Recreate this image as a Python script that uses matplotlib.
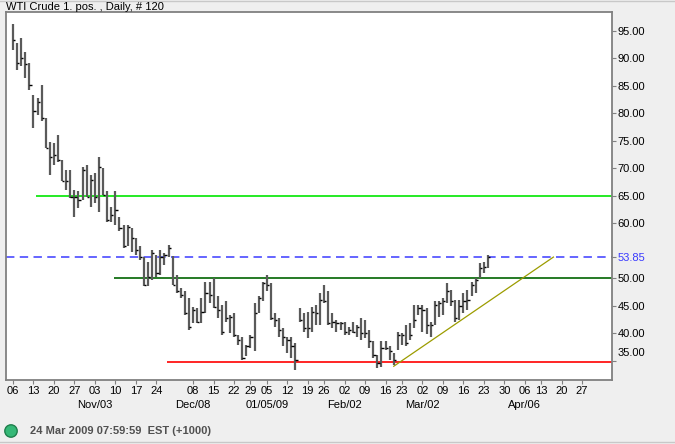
import matplotlib
matplotlib.use("Agg")
import matplotlib.pyplot as plt
import matplotlib.transforms as mtransforms
from matplotlib.patches import Circle
import numpy as np
import pandas as pd

plt.rcParams["font.family"] = ["Liberation Sans", "DejaVu Sans"]
plt.rcParams["font.size"] = 8

# ---- data: daily bars (high / low / close), first bar 2008-10-06 ----
high = [96.2, 92.7, 93.6, 91.2, 89.1, 83.3, 82.8, 85.1, 79.1, 74.8,
        74.5, 76.0, 71.5, 69.7, 69.7, 66.1, 65.8, 70.3, 70.6, 68.8,
        69.1, 72.0, 70.0, 65.8, 63.0, 65.8, 61.2, 59.7, 59.7, 59.1,
        57.3, 55.8, 53.9, 53.0, 55.2, 54.2, 55.2, 54.6, 56.1, 54.1,
        50.6, 48.2, 47.6, 46.4, 44.8, 44.5, 46.4, 49.4, 49.4, 50.0,
        46.7, 45.2, 45.8, 43.3, 43.6, 39.7, 39.4, 37.9, 39.7, 45.5,
        46.7, 49.4, 50.6, 49.1, 43.6, 42.7, 40.9, 39.4, 39.4, 38.2,
        44.5, 43.6, 43.9, 44.8, 45.2, 47.3, 48.8, 47.6, 43.6, 42.4,
        42.1, 42.1, 41.2, 42.1, 41.5, 42.7, 42.4, 40.6, 38.5, 36.1,
        38.5, 38.5, 37.6, 36.4, 40.3, 40.0, 41.5, 41.8, 45.2, 45.2,
        45.2, 44.5, 42.1, 45.8, 45.8, 46.4, 49.1, 47.9, 46.1, 46.1,
        47.3, 47.9, 49.4, 50.0, 52.7, 53.0, 54.2]
low = [91.5, 87.9, 88.5, 86.4, 84.2, 77.3, 79.7, 78.5, 73.6, 68.8,
       70.6, 71.2, 67.6, 66.1, 64.5, 61.2, 62.7, 64.2, 64.8, 63.0,
       63.6, 62.1, 65.2, 60.3, 60.3, 59.7, 58.5, 55.5, 55.8, 54.8,
       54.2, 53.3, 48.5, 48.5, 49.7, 50.3, 50.6, 52.4, 53.9, 48.8,
       47.3, 46.4, 43.3, 40.6, 41.8, 41.8, 41.8, 43.6, 45.5, 44.5,
       42.7, 39.7, 42.1, 40.0, 39.4, 37.9, 35.1, 35.8, 37.3, 36.7,
       43.6, 45.8, 47.6, 42.4, 41.2, 39.4, 37.6, 36.4, 35.5, 33.3,
       42.1, 40.3, 39.1, 40.3, 41.5, 41.5, 45.5, 41.5, 40.9, 40.3,
       40.6, 39.7, 39.7, 40.0, 39.4, 38.8, 39.1, 37.3, 35.5, 33.6,
       33.9, 37.0, 35.2, 34.2, 37.0, 37.9, 37.6, 38.8, 40.9, 43.3,
       40.3, 39.9, 39.4, 41.5, 43.0, 43.3, 45.5, 44.9, 42.1, 42.4,
       43.6, 44.2, 46.7, 47.3, 50.0, 50.9, 51.8]
close = [93.3, 89.1, 90.0, 88.9, 85.1, 80.4, 82.0, 79.1, 73.6, 72.1,
         72.4, 71.5, 67.6, 67.6, 64.8, 64.8, 64.2, 69.7, 64.8, 67.9,
         64.8, 70.3, 65.2, 60.6, 61.5, 62.4, 59.1, 55.8, 59.4, 57.3,
         55.1, 53.9, 48.8, 50.3, 54.6, 50.9, 53.9, 54.2, 55.5, 48.8,
         47.6, 47.0, 43.6, 41.2, 44.2, 42.1, 43.9, 47.3, 47.0, 44.8,
         44.2, 40.3, 42.7, 43.0, 39.7, 38.8, 35.5, 37.6, 39.4, 43.6,
         46.4, 49.1, 48.8, 42.7, 42.4, 40.6, 39.4, 38.8, 37.6, 35.2,
         42.4, 40.9, 40.9, 43.9, 43.6, 46.1, 45.8, 41.8, 42.1, 41.8,
         41.8, 40.3, 40.6, 40.3, 41.2, 40.0, 40.0, 38.5, 36.1, 34.5,
         37.3, 37.3, 36.7, 35.2, 39.7, 39.7, 38.2, 39.7, 42.4, 44.5,
         44.2, 41.5, 41.5, 45.2, 45.5, 45.8, 47.6, 45.8, 42.7, 44.9,
         45.8, 46.1, 48.8, 49.7, 51.8, 52.1, 53.9]

holidays = ["2008-11-27", "2008-12-25", "2009-01-01", "2009-01-19",
            "2009-02-16", "2009-04-10"]
week_skip = ["2008-12-01"]                      # no label in the original
month_labels = {"2008-11-03": "Nov/03", "2008-12-08": "Dec/08",
                "2009-01-05": "01/05/09", "2009-02-02": "Feb/02",
                "2009-03-02": "Mar/02", "2009-04-06": "Apr/06"}
yticks = [35, 40, 45, 50, 53.85, 60, 65, 70, 75, 80, 85, 90, 95]
# drawn levels: (value, start date, colour)
levels = [(65.0, "2008-10-14", "#00e600"),
          (50.0, "2008-11-10", "#006400"),
          (34.85, "2008-11-28", "#ff0000")]
resist = 53.85
trend = (("2009-02-19", 34.0), ("2009-04-16", 53.85))

# trading-day axis
days = pd.bdate_range("2008-10-06", "2009-05-01")
days = days[~days.isin(pd.to_datetime(holidays))]
x = np.arange(len(close))
def dx(d):
    return days.searchsorted(pd.Timestamp(d))

mondays = pd.date_range("2008-10-06", "2009-04-27", freq="W-MON")
mondays = mondays[~mondays.isin(pd.to_datetime(week_skip))]
tick_pos = [dx(m) for m in mondays]
tick_lab = [m.strftime("%d") for m in mondays]

W, H = 675, 444
fig = plt.figure(figsize=(W / 100, H / 100), dpi=100, facecolor="#efefef")
ax = fig.add_axes([6 / W, 1 - 380 / H, 606 / W, 368 / H])
ax.set_facecolor("white")

ax.vlines(x, low, high, color="#5a5a5a", lw=1.6, zorder=3)
ax.hlines(close, x, x + 0.55, color="black", lw=1.0, zorder=3)

XMIN, XMAX = -1.7, 146.3
for val, start, col in levels:
    ax.hlines(val, dx(start) - 0.4, XMAX, color=col, lw=1.2, zorder=2)
ax.axhline(resist, color="#3a3aff", lw=1.1, dashes=(5.5, 3.5), zorder=2)
(t0, p0), (t1, p1) = trend
ax.plot([dx(t0), dx(t1)], [p0, p1], color="#9c9c00", lw=0.9, zorder=2)

ax.set_xlim(XMIN, XMAX)
ax.set_ylim(31.5, 98.4)

# x axis
ax.set_xticks(tick_pos)
ax.set_xticklabels(tick_lab)
ax.tick_params(axis="x", length=3, pad=1.5, color="#808080", labelsize=8)
for d, lab in month_labels.items():
    ax.text(dx(d), -0.068, lab, transform=ax.get_xaxis_transform(),
            ha="center", va="center", fontsize=8)

# y axis on the right
ax.yaxis.tick_right()
ax.set_yticks(yticks)
ax.set_yticklabels([f"{v:.2f}" for v in yticks])
ax.tick_params(axis="y", length=3, pad=1, color="#808080", labelsize=8)
for t, v in zip(ax.get_yticklabels(), yticks):
    if v == resist:
        t.set_color("#3a3aff")
    if v == 35:
        t.set_transform(t.get_transform() + mtransforms.ScaledTranslation(0, 9 / 100, fig.dpi_scale_trans))

for sp in ax.spines.values():
    sp.set_color("#808080")
    sp.set_linewidth(1.3)

fig.text(6 / W, 1 - 7.5 / H, "WTI Crude 1. pos. , Daily, # 120", ha="left", va="center", fontsize=8)

# status bar
fig.add_artist(Circle((11 / 100, (H - 431) / 100), 0.062, transform=fig.dpi_scale_trans,
                      facecolor="#35b877", edgecolor="#1f7f4c", lw=1.0))
fig.text(30 / W, 1 - 431 / H, "24 Mar 2009 07:59:59  EST (+1000)", ha="left", va="center",
         fontsize=8, fontweight="bold", color="#505050")
fig.add_artist(plt.Line2D([0, 1], [1 - 441.5 / H] * 2, transform=fig.transFigure,
                          color="#c8c8c8", lw=1))
fig.add_artist(plt.Line2D([0, 1], [1 - 1 / H] * 2, transform=fig.transFigure,
                          color="#c8c8c8", lw=1))

fig.savefig("out.png", dpi=100, facecolor=fig.get_facecolor())
